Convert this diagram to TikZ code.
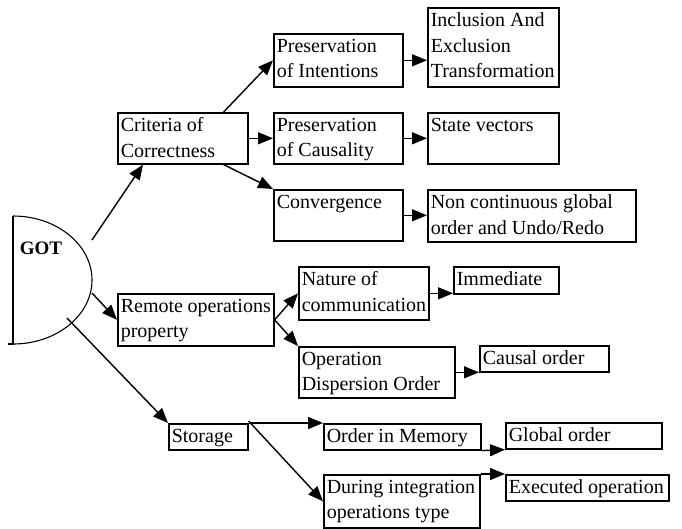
\documentclass[tikz,border=0pt]{standalone}
\usepackage{fontspec}
\setmainfont{Liberation Serif}
\usetikzlibrary{arrows.meta}

% box with top-left aligned text: name, x, y, width, height, text
\newcommand\tbox[6]{%
  \node[tb, minimum width=#4pt, minimum height=#5pt] (#1) at (#2,#3)
    {\parbox[c][\dimexpr#5pt-10pt\relax][t]{\dimexpr#4pt-6pt\relax}{\raggedright #6}};}

\begin{document}
\begin{tikzpicture}[x=1pt,y=-1pt,
  tb/.style={draw, line width=1.6pt, anchor=north west, inner xsep=3pt, inner ysep=5pt,
             font=\fontsize{20}{25.5}\selectfont},
  arr/.style={line width=1.4pt, -{Triangle[length=15pt,width=12pt]}}]
\useasboundingbox (0,0) rectangle (682,528);

% GOT half disc
\draw[line width=1.2pt] (13,216) -- (13,344) -- (8,344);
\draw[line width=1.1pt] (13,216) arc[start angle=90, end angle=-90, x radius=79pt, y radius=64pt];
\node[font=\fontsize{19}{22}\selectfont\bfseries] (got) at (41,248) {GOT};
\coordinate (g1) at (92,240);
\coordinate (g2) at (92,293);
\coordinate (g3) at (67,318);

% first level
\tbox{crit}{117}{112}{130}{51}{Criteria of\\Correctness}
\tbox{remote}{117}{293}{156}{52}{Remote operations\\property}
\tbox{storage}{168}{423}{79}{26}{Storage}

% second level
\tbox{pi}{273}{33}{129}{53}{Preservation\\of Intentions}
\tbox{pc}{273}{112}{129}{51}{Preservation\\of Causality}
\tbox{conv}{273}{189}{129}{51}{Convergence}
\tbox{nature}{298}{266}{130}{53}{Nature of\\communication}
\tbox{odo}{298}{346}{156}{51}{Operation\\Dispersion Order}
\tbox{om}{323}{423}{157}{26}{Order in Memory}
\tbox{during}{323}{474}{156}{53}{During integration\\operations type}

% third level
\tbox{incl}{427}{7}{131}{79}{Inclusion And\\Exclusion\\Transformation}
\tbox{sv}{427}{112}{131}{51}{State vectors}
\tbox{nc}{427}{189}{208}{52}{Non continuous global\\order and Undo/Redo}
\tbox{imm}{453}{266}{105}{27}{Immediate}
\tbox{causal}{479}{345}{129}{26}{Causal order}
\tbox{global}{505}{422}{156}{26}{Global order}
\tbox{exec}{505}{474}{163}{26}{Executed operation}

% connectors
\draw[arr] (g1) -- ([xshift=26pt]crit.south west);
\draw[arr] (g2) -- (remote.west);
\draw[arr] (g3) -- (storage.north west);

\draw[arr] ([xshift=-25pt]crit.north east) -- (pi.west);
\draw[arr] (crit.east) -- (pc.west);
\draw[arr] ([xshift=-25pt]crit.south east) -- (conv.north west);

\draw[arr] (pi.east) -- (pi.east -| incl.west);
\draw[arr] (pc.east) -- (sv.west);
\draw[arr] (conv.east) -- (conv.east -| nc.west);

\draw[arr] (remote.east) -- (nature.west);
\draw[arr] (remote.east) -- (odo.north west);
\draw[arr] (nature.east) -- (nature.east -| imm.west);
\draw[arr] (odo.east) -- (odo.east -| causal.west);

\draw[arr] (storage.north east) -- (om.north west);
\draw[arr] ([yshift=2pt]storage.north east) -- (during.west);
\draw[arr] (om.south east) -- (global.south west);
\draw[arr] (during.north east) -- (exec.north west);
\end{tikzpicture}
\end{document}
